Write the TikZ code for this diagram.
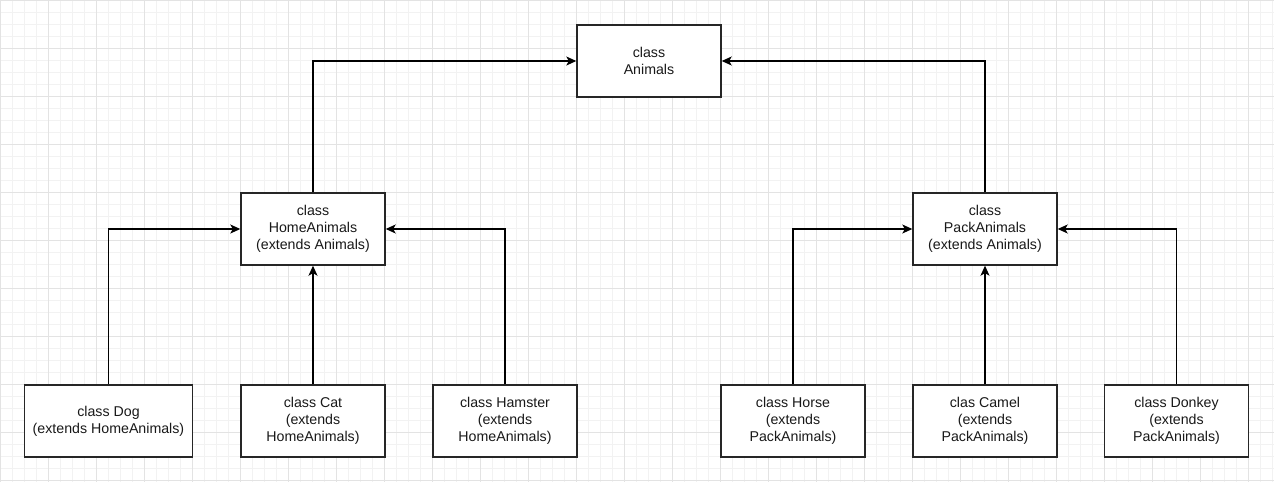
\documentclass[tikz,border=0pt]{standalone}
\usepackage{fontspec}
\setmainfont{Liberation Sans}
\usetikzlibrary{arrows.meta}
\begin{document}
\begin{tikzpicture}[x=1pt,y=-1pt,
  cls/.style={draw=black!85,line width=1.4pt,fill=white,minimum height=72pt,align=center,
    font=\fontsize{14.2pt}{17.3pt}\selectfont,inner sep=0pt,text=black!90},
  w144/.style={minimum width=144pt},
  w168/.style={minimum width=168pt},
  conn/.style={line width=1.2pt,black,-{Stealth[length=10pt,width=9pt,inset=2.5pt]}}]
\useasboundingbox (0,0) rectangle (1274,482);
\fill[white] (0,0) rectangle (1274,482);
\foreach \i in {0,...,106} {\draw[line width=0.8pt,black!5] (12*\i+0.5,0) -- (12*\i+0.5,482);}
\foreach \i in {0,...,40} {\draw[line width=0.8pt,black!5] (0,12*\i+0.5) -- (1274,12*\i+0.5);}
\foreach \i in {0,...,26} {\draw[line width=0.8pt,black!11] (48*\i+0.5,0) -- (48*\i+0.5,482);}
\foreach \i in {0,...,10} {\draw[line width=0.8pt,black!11] (0,48*\i+0.5) -- (1274,48*\i+0.5);}

\node[cls,w144] (animals) at (649,61) {class\\Animals};
\node[cls,w144] (home) at (313,229) {class\\HomeAnimals\\(extends Animals)};
\node[cls,w144] (pack) at (985,229) {class\\PackAnimals\\(extends Animals)};
\node[cls,w168] (dog) at (108.5,421) {class Dog\\(extends HomeAnimals)};
\node[cls,w144] (cat) at (313,421) {class Cat\\(extends\\HomeAnimals)};
\node[cls,w144] (hamster) at (505,421) {class Hamster\\(extends\\HomeAnimals)};
\node[cls,w144] (horse) at (793,421) {class Horse\\(extends\\PackAnimals)};
\node[cls,w144] (camel) at (985,421) {clas Camel\\(extends\\PackAnimals)};
\node[cls,w144] (donkey) at (1176.5,421) {class Donkey\\(extends\\PackAnimals)};

\draw[conn] (home.north) |- (animals.west);
\draw[conn] (pack.north) |- (animals.east);
\draw[conn] (dog.north) |- (home.west);
\draw[conn] (cat.north) -- (home.south);
\draw[conn] (hamster.north) |- (home.east);
\draw[conn] (horse.north) |- (pack.west);
\draw[conn] (camel.north) -- (pack.south);
\draw[conn] (donkey.north) |- (pack.east);
\end{tikzpicture}
\end{document}
